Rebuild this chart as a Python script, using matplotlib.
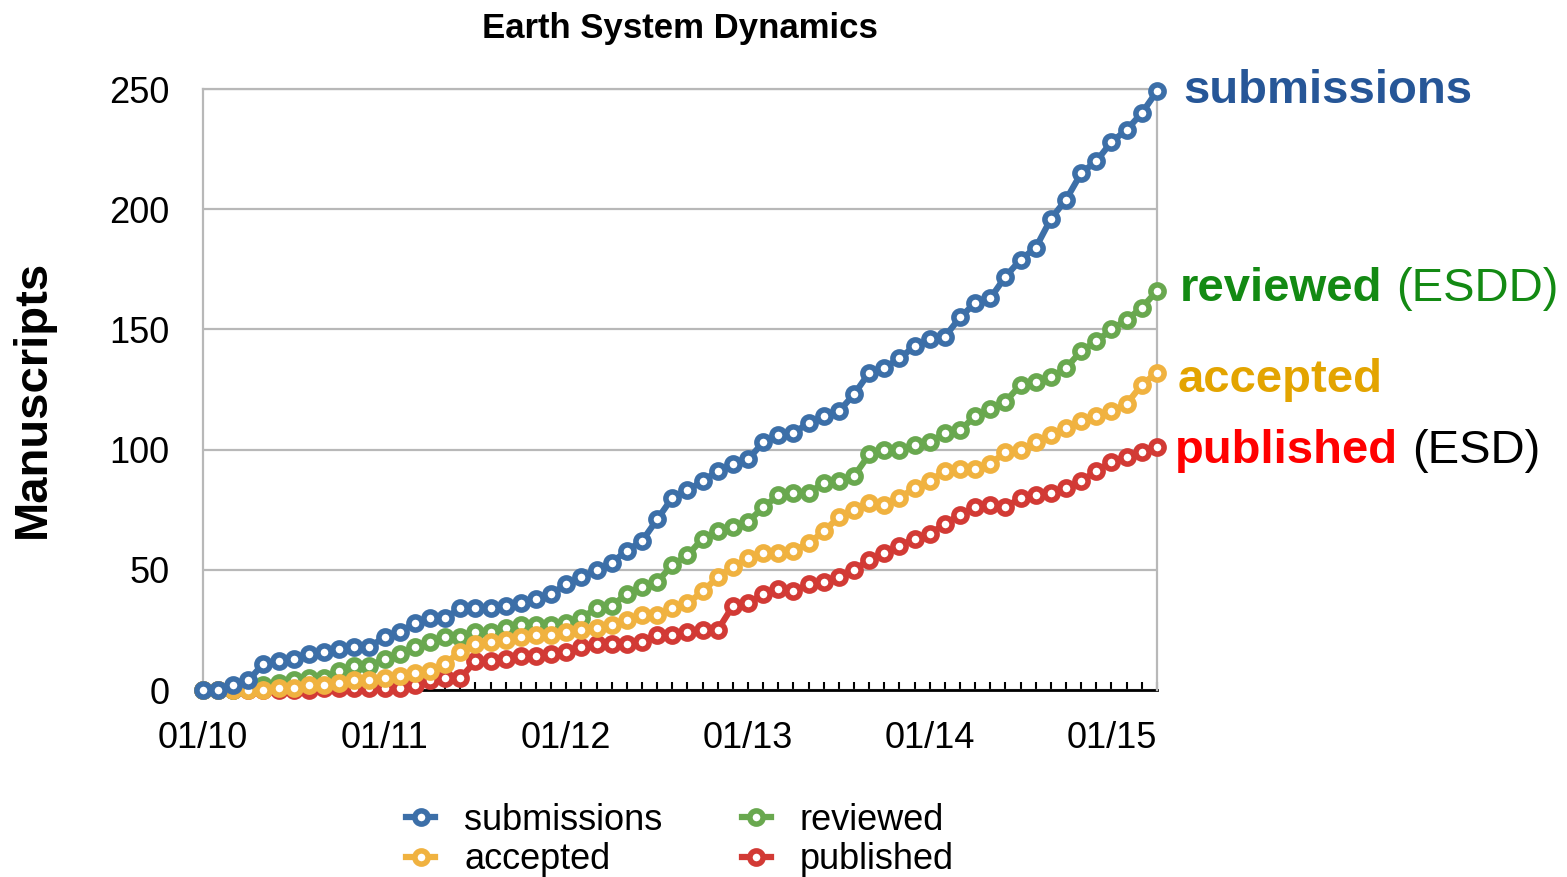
import numpy as np
import matplotlib
matplotlib.use("Agg")
import matplotlib.pyplot as plt

plt.rcParams['font.family'] = ['Liberation Sans', 'DejaVu Sans']

# monthly counts, Jan 2010 .. Apr 2015
months = np.arange(64)
submissions = [0, 0, 2, 4, 11, 12, 13, 15, 16, 17,
               18, 18, 22, 24, 28, 30, 30, 34, 34, 34, 35,
               36, 38, 40, 44, 47, 50, 53, 58, 62, 71,
               80, 83, 87, 91, 94, 96, 103, 106, 107, 111,
               114, 116, 123, 132, 134, 138, 143, 146, 147, 155, 161,
               163, 172, 179, 184, 196, 204, 215, 220, 228, 233, 240, 249]
reviewed = [0, 0, 0, 1, 2, 3, 4, 5, 5, 8,
            10, 10, 13, 15, 18, 20, 22, 22, 24, 24, 26,
            27, 27, 27, 28, 30, 34, 35, 40, 43, 45,
            52, 56, 63, 66, 68, 70, 76, 81, 82, 82,
            86, 87, 89, 98, 100, 100, 102, 103, 107, 108, 114,
            117, 120, 127, 128, 130, 134, 141, 145, 150, 154, 159, 166]
accepted = [0, 0, 0, 0, 0, 1, 1, 2, 2, 3,
            4, 4, 5, 6, 7, 8, 11, 16, 19, 20, 21,
            22, 23, 23, 24, 25, 26, 27, 29, 31, 31,
            34, 36, 41, 47, 51, 55, 57, 57, 58, 61,
            66, 72, 75, 78, 77, 80, 84, 87, 91, 92, 92,
            94, 99, 100, 103, 106, 109, 112, 114, 116, 119, 127, 132]
published = [0, 0, 0, 0, 0, 0, 0, 0, 1, 1,
             1, 1, 1, 1, 2, 4, 5, 5, 12, 12, 13,
             14, 14, 15, 16, 18, 19, 19, 19, 20, 23,
             23, 24, 25, 25, 35, 36, 40, 42, 41, 44,
             45, 47, 50, 54, 57, 60, 63, 65, 69, 73, 76,
             77, 76, 80, 81, 82, 84, 87, 91, 95, 97, 99, 101]

year_ticks = [0, 12, 24, 36, 48, 60]
year_labels = ['01/10', '01/11', '01/12', '01/13', '01/14', '01/15']

line_cols = {'submissions': '#3c6fa8', 'reviewed': '#69a84f',
             'accepted': '#f0b240', 'published': '#d23a35'}

fig = plt.figure(figsize=(15.67, 8.77), dpi=100)
ax = fig.add_axes([0.1295, 0.2132, 0.6088, 0.6853])

series = [('submissions', submissions), ('accepted', accepted),
          ('reviewed', reviewed), ('published', published)]
# draw order: published at bottom, submissions on top
for name, vals in series[::-1]:
    ax.plot(months, vals, '-o', color=line_cols[name], lw=4.5, ms=9.5,
            mfc='white', mec=line_cols[name], mew=4, label=name,
            clip_on=False, zorder=3)

ax.set_xlim(0, 63)
ax.set_ylim(0, 250)
ax.set_yticks([0, 50, 100, 150, 200, 250])
ax.yaxis.grid(True, color='#b8b8b8', lw=1.6)
ax.set_axisbelow(True)
ax.set_xticks(months, minor=True)
ax.set_xticks(year_ticks)
ax.set_xticklabels(year_labels)
ax.tick_params(axis='x', which='both', direction='in', length=6, width=1.5,
               color='black', labelsize=26, pad=22)
ax.tick_params(axis='y', length=0, labelsize=26, pad=24)
for s in ['left', 'right', 'top']:
    ax.spines[s].set_color('#b8b8b8')
    ax.spines[s].set_linewidth(1.6)
ax.spines['bottom'].set_color('black')
ax.spines['bottom'].set_linewidth(2)
ax.spines['bottom'].set_zorder(2)

fig.text(0.434, 0.968, 'Earth System Dynamics', ha='center', va='center',
         fontsize=25, weight='bold')
fig.text(0.021, 0.545, 'Manuscripts', rotation=90, ha='center', va='center',
         fontsize=34, weight='bold')

# end labels
lab_cols = {'submissions': '#265697', 'reviewed': '#138a13',
            'accepted': '#e3a400', 'published': '#ff0000'}
lab_offs = {'submissions': (26, 0), 'reviewed': (23, 2),
            'accepted': (21, -7), 'published': (18, -4)}
suffix = {'reviewed': ('(ESDD)', '#138a13'), 'published': ('(ESD)', 'black')}
last = dict((n, v[-1]) for n, v in series)
texts = {}
for name in ['submissions', 'reviewed', 'accepted', 'published']:
    texts[name] = ax.annotate(name, xy=(months[-1], last[name]),
                              xytext=lab_offs[name], textcoords='offset pixels',
                              ha='left', va='center', fontsize=34, weight='bold',
                              color=lab_cols[name], annotation_clip=False)

fig.canvas.draw()
r = fig.canvas.get_renderer()
for name, (txt, col) in suffix.items():
    bb = texts[name].get_window_extent(r)
    fig.text(bb.x1 + 14, (bb.y0 + bb.y1) / 2, txt, transform=None,
             ha='left', va='center', fontsize=34, color=col)

handles, labels = ax.get_legend_handles_labels()
leg = ax.legend(handles[::-1], labels[::-1],
                ncol=2, loc='upper center', bbox_to_anchor=(0.434, 0.105),
                bbox_transform=fig.transFigure, frameon=False, fontsize=26,
                handlelength=0.8, handletextpad=0.8, columnspacing=2.2,
                labelspacing=0.12, borderpad=0)

fig.savefig('out.png', dpi=100)
